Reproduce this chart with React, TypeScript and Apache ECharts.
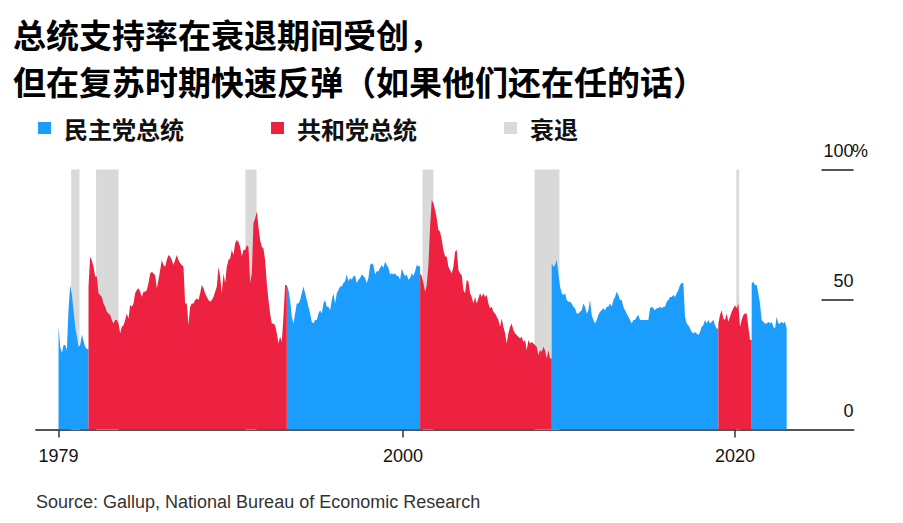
import React, { useEffect, useRef } from "react";
import * as echarts from "echarts";

// ---- data (approval %; one point every ~0.1 year) ----
const STEP = 0.1004;
const dem1979Start = 1979.237;
const dem1979 = [39.5, 31.8, 29.4, 32.5, 32.5, 30.6, 46, 55.6, 52, 46, 39.5, 36, 31.8, 32.5, 36.6, 34, 31.8, 31];
const rep1981Start = 1981.044;
const rep1981 = [
  55, 66.5, 65, 62.6, 58.8, 58.8, 52.4, 51.7, 51, 48.5, 47.2, 45.3, 44.6, 44, 42.1, 40.8, 42.1, 42.1, 40.8, 37,
  39.5, 40.1, 42.1, 44.6, 42.7, 47.9, 47.2, 48.5, 52.4, 53.7, 54.3, 53, 51, 53, 53, 53.7, 56.3, 60, 60.7, 60,
  59.3, 54.3, 57.5, 61.3, 65.2, 63.3, 62.6, 65.2, 67.1, 66.5, 65.2, 63.3, 65.2, 67.1, 65.2, 63.9, 63.3, 62.6, 48.5, 48.5,
  40.1, 47.2, 48.5, 48.5, 49.8, 50.4, 49.8, 52.4, 55.6, 54.3, 52.4, 51, 49.8, 49.1, 49.8, 51, 53, 55, 62.6, 58.8,
  52.4, 60, 56.3, 62.6, 65.2, 65.8, 69, 67.1, 71.6, 72.9, 72.2, 70.3, 66.5, 69, 69, 70.9, 70.3, 56.3, 60, 79.3,
  81.2, 83.8, 78, 72.9, 70.3, 69.6, 65.2, 56.3, 49.8, 44.6, 40.8, 40.8, 40.1, 37, 33.1, 35.7, 33.7, 43.4, 55.6,
];
const dem1993Start = 1992.992;
const dem1993 = [
  55.6, 53.7, 49.8, 43.4, 40.8, 44.6, 48.5, 48.5, 49.8, 52.4, 55, 52.4, 49.8, 47.2, 44.6, 41.4, 40.8, 42.1, 42.1, 44.6,
  45.9, 44.6, 48.5, 49.8, 47.2, 47.2, 45.9, 49.8, 52.4, 48.5, 52.4, 53.7, 55, 55, 56.3, 57, 59.6, 57, 58.3, 57.6,
  59, 59, 56.3, 57.6, 58.3, 59.6, 59, 58.3, 56.3, 58.3, 63.3, 63.9, 63.3, 59.6, 60.9, 60.9, 62.2, 63.3, 62.2, 64.5,
  63.3, 62.2, 59.6, 60.1, 59.6, 60.1, 59, 59, 57.6, 61.9, 60.1, 59, 59.6, 57.6, 58.3, 60.1, 59, 60.9, 63.3, 62.8,
];
const rep2001Start = 2001.024;
const rep2001 = [
  60, 59, 56.3, 53, 55.6, 63.3, 78, 88.3, 87, 84.4, 81.2, 76.7, 76.1, 73, 69, 66.5, 66.5, 62.6, 61.3, 60,
  62.6, 68.4, 69, 61.3, 60, 59.3, 53.7, 52.4, 57.5, 56.9, 52.4, 51, 48.5, 51, 48.5, 50.4, 52.4, 51, 52.4, 51,
  51.7, 48.5, 46.6, 47.2, 45.3, 44.6, 43.4, 42.1, 39.5, 42.7, 39.5, 37, 33.1, 37, 39.5, 40.8, 38.2, 37, 36.3, 35.7,
  35, 35.7, 33.7, 34.4, 30.5, 34.4, 33.1, 33.7, 33.1, 32.5, 31.8, 28.6, 30.5, 29.9, 31.8, 30.5, 27.3, 30.5, 27.3,
];
const dem2009Start = 2008.956;
const dem2009 = [
  63.9, 62.6, 63.3, 65.2, 60, 55, 52.4, 51.7, 52.4, 49.8, 49.1, 49.1, 48.5, 47.2, 46.6, 44.6, 44.6, 45.3, 45.9, 48.5,
  47.2, 44.6, 45.9, 49.8, 44, 42.1, 40.8, 42.1, 44, 45.3, 45.9, 46.6, 45.9, 47.2, 47.2, 48.5, 47.2, 49.8, 51, 53,
  51.7, 49.8, 49.8, 47.2, 45.9, 44.6, 43.4, 42.1, 40.8, 42.1, 42.1, 43.4, 44, 42.1, 42.1, 42.1, 42.1, 42.1, 42.1, 46.6,
  47.2, 46.6, 45.9, 46.6, 46.6, 47.2, 46.6, 47.2, 47.2, 49.1, 49.8, 51, 51, 51.7, 51, 52.4, 53.7, 55.6, 56.3, 56.3,
  43.4, 40.8, 40.1, 38.8, 37.5, 36.9, 37.5, 36.9, 36.3, 37.5, 39.5, 40.1, 42.1, 40.8, 42.1, 40.8, 41.4, 42.1, 40.1, 38.8,
];
const rep2019Start = 2018.996;
const rep2019 = [40.8, 44, 45.9, 42.7, 42.1, 44.6, 41.4, 43.4, 45.3, 46.6, 47.8, 46.6, 48.5, 39.5, 42.1, 44, 44.6, 44.6, 39.5, 34.4];
const dem2021Start = 2021.004;
const dem2021 = [56.2, 56.8, 55.6, 55.6, 52.4, 48.5, 42.1, 41.4, 40.8, 40.8, 41.4, 40.8, 41.4, 39.5, 38.8, 43.4, 40.8, 40.8, 41.4, 40.8, 41.4, 38.8];

const recessions: [number, number][] = [
  [1980.0, 1980.5],
  [1981.5, 1982.85],
  [1990.5, 1991.17],
  [2001.17, 2001.83],
  [2007.92, 2009.42],
  [2020.08, 2020.25],
];

const xTickValues = [1979.237, 2000, 2020];
const xTickLabels = ["1979", "2000", "2020"];
const yTickValues = [0, 50, 100];
const yTickLabels = ["0", "50", "100"];
const yTopUnit = "%";

const seriesNames = ["民主党总统", "共和党总统", "衰退"];
const titleText = "总统支持率在衰退期间受创，\n但在复苏时期快速反弹（如果他们还在任的话）";
const sourceText = "Source: Gallup, National Bureau of Economic Research";

const BLUE = "#1b9dfe";
const RED = "#ec2240";
const GRAY = "#d9d9d9";

type Seg = { start: number; values: number[] };
const blueSegs: Seg[] = [
  { start: dem1979Start, values: dem1979 },
  { start: dem1993Start, values: dem1993 },
  { start: dem2009Start, values: dem2009 },
  { start: dem2021Start, values: dem2021 },
];
const redSegs: Seg[] = [
  { start: rep1981Start, values: rep1981 },
  { start: rep2001Start, values: rep2001 },
  { start: rep2019Start, values: rep2019 },
];
// all term starts, in time order, so each term runs up to where the next one begins
const termStarts = [...blueSegs, ...redSegs].map((s) => s.start).sort((a, b) => a - b);

function segPoints(s: Seg) {
  const pts: any[] = s.values.map((v, i) => [s.start + i * STEP, v]);
  const next = termStarts.find((t) => t > s.start + 0.01);
  if (next !== undefined) pts.push([next, s.values[s.values.length - 1]]);
  return pts;
}
function joinSegs(parts: Seg[]) {
  const out: any[] = [];
  parts.forEach((p, i) => {
    const pts = segPoints(p);
    if (i > 0) out.push([(out[out.length - 1][0] + pts[0][0]) / 2, null]);
    out.push(...pts);
  });
  return out;
}

export default function App() {
  const ref = useRef<HTMLDivElement>(null);
  useEffect(() => {
    document.body.style.margin = "0";
    const chart = echarts.init(ref.current!, undefined, { renderer: "svg" });
    const blueData = joinSegs(blueSegs);
    const redData = joinSegs(redSegs);
    const sansLatin = "'Liberation Sans', Arial, sans-serif";
    const cjk = "'Noto Sans CJK SC', sans-serif";
    chart.setOption({
      animation: false,
      title: {
        text: titleText,
        left: 13,
        top: 10,
        padding: 0,
        textStyle: { fontFamily: cjk, fontSize: 33, fontWeight: "bold", color: "#000", lineHeight: 47 },
      },
      legend: {
        left: 38,
        top: 116,
        padding: 0,
        itemGap: 87,
        itemWidth: 13,
        itemHeight: 12,
        icon: "rect",
        selectedMode: false,
        data: [seriesNames[0], seriesNames[1], seriesNames[2]],
        textStyle: { fontFamily: cjk, fontSize: 24, fontWeight: "bold", color: "#111", padding: [0, 0, 0, 8] },
      },
      grid: { left: 36, right: 49.5, top: 169.5, bottom: 93.5 },
      xAxis: {
        type: "value",
        min: 1977.88,
        max: 2027.14,
        axisLine: { show: true, lineStyle: { color: "#555", width: 2 } },
        axisTick: { show: true, length: 8, customValues: xTickValues, lineStyle: { color: "#333", width: 1.5 } },
        axisLabel: {
          show: true,
          customValues: xTickValues,
          margin: 17,
          fontFamily: sansLatin,
          fontSize: 18,
          color: "#111",
          formatter: (v: number) => {
            const i = xTickValues.findIndex((t) => Math.abs(t - v) < 0.01);
            return i >= 0 ? xTickLabels[i] : "";
          },
        },
        splitLine: { show: false },
      },
      yAxis: {
        type: "value",
        position: "right",
        min: 0,
        max: 100,
        interval: 50,
        axisLine: { show: false },
        axisTick: { show: true, inside: true, length: 32, lineStyle: { color: "#555", width: 2 } },
        axisLabel: { show: false },
        splitLine: { show: false },
      },
      series: [
        {
          name: seriesNames[2],
          type: "line",
          data: [],
          z: 1,
          itemStyle: { color: GRAY },
          lineStyle: { color: GRAY },
          markArea: {
            silent: true,
            itemStyle: { color: GRAY },
            data: recessions.map(([a, b]) => [{ xAxis: a, yAxis: 0 }, { xAxis: b, yAxis: 100 }]),
          },
        },
        {
          name: seriesNames[0],
          type: "line",
          data: blueData,
          z: 3,
          showSymbol: false,
          symbol: "none",
          connectNulls: false,
          itemStyle: { color: BLUE },
          lineStyle: { width: 0, color: BLUE },
          areaStyle: { color: BLUE, opacity: 1 },
        },
        {
          name: seriesNames[1],
          type: "line",
          data: redData,
          z: 3,
          showSymbol: false,
          symbol: "none",
          connectNulls: false,
          itemStyle: { color: RED },
          lineStyle: { width: 0, color: RED },
          areaStyle: { color: RED, opacity: 1 },
        },
      ],
    });

    const axisX = chart.convertToPixel({ xAxisIndex: 0 }, 2027.14) as number;
    const graphics: any[] = [];
    yTickValues.forEach((v, i) => {
      const py = chart.convertToPixel({ yAxisIndex: 0 }, v) as number;
      graphics.push({
        type: "text",
        x: axisX,
        y: py - 18.5,
        style: {
          text: yTickLabels[i],
          fontFamily: sansLatin,
          fontSize: 18,
          fill: "#111",
          textAlign: "right",
          textVerticalAlign: "middle",
        },
      });
      if (i === yTickValues.length - 1) {
        graphics.push({
          type: "text",
          x: axisX - 1.5,
          y: py - 18.5,
          style: {
            text: yTopUnit,
            fontFamily: sansLatin,
            fontSize: 18,
            fill: "#111",
            textAlign: "left",
            textVerticalAlign: "middle",
          },
        });
      }
    });
    graphics.push({
      type: "text",
      left: 36,
      top: 493,
      style: { text: sourceText, fontFamily: sansLatin, fontSize: 18, fill: "#333" },
    });
    chart.setOption({ graphic: graphics });

    return () => chart.dispose();
  }, []);
  return <div ref={ref} style={{ width: 903, height: 523 }} />;
}
